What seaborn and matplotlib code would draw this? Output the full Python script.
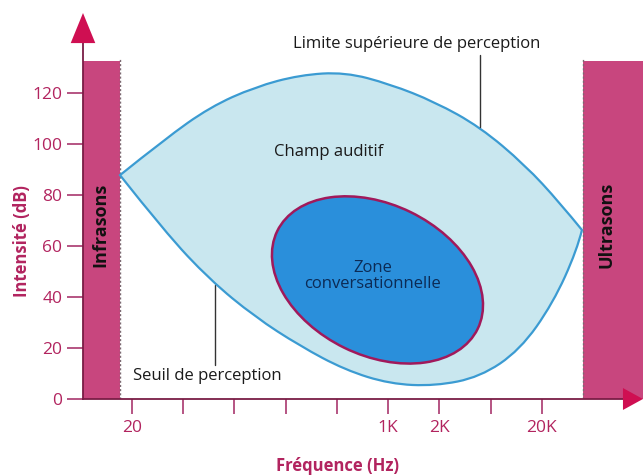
import numpy as np
import matplotlib.pyplot as plt
import seaborn as sns
from matplotlib.path import Path
from matplotlib.patches import PathPatch, Ellipse
from matplotlib.transforms import ScaledTranslation

# x axis is drawn as tick index: 0 = 20 Hz, 5 = 1K, 6 = 2K, 8 = 20K
freq_ticks = [0, 1, 2, 3, 4, 5, 6, 7, 8]
freq_labels = ["20", "", "", "", "", "1K", "2K", "", "20K"]
db_ticks = [0, 20, 40, 60, 80, 100, 120]

# limite superieure de perception (tick index, dB)
upper_x = [-0.234, 0.644, 1.522, 2.400, 3.278, 4.156, 5.034, 5.912, 6.790, 7.668, 8.351, 8.780]
upper_y = [87.8, 102.0, 114.5, 122.4, 127.1, 128.2, 123.5, 116.5, 106.7, 91.8, 76.9, 66.3]

# seuil de perception
lower_x = [-0.234, 0.644, 1.522, 2.400, 3.278, 4.156, 5.034, 5.912, 6.790, 7.571, 8.215, 8.683, 8.780]
lower_y = [87.8, 65.5, 46.7, 32.2, 20.8, 11.4, 5.9, 5.1, 8.6, 19.2, 37.6, 58.4, 66.3]

# zone conversationnelle: centre (tick index, dB), size in pixels, tilt
zone_center = (4.79, 46.7)
zone_size = (223, 151)
zone_angle = -26

# infrasons / ultrasons bands (tick index) and their height (dB)
infra_band = (-0.956, -0.234)
ultra_band = (8.80, 9.97)
band_top = 132.5

PINK = "#c8467e"
CRIMSON = "#b2245f"
ARROW = "#cf0f52"
AXIS = "#7a1d45"
BLUE_LINE = "#3b9bd2"
LIGHT_BLUE = "#c9e7ef"
ZONE_BLUE = "#2a8fdb"
ZONE_EDGE = "#a1195b"


def smooth_codes(xs, ys):
    # quadratic b-spline through the read points, drawn by matplotlib
    pts = np.column_stack([xs, ys])
    verts = [pts[0]]
    codes = [Path.MOVETO]
    for i in range(1, len(pts) - 2):
        verts += [pts[i], (pts[i] + pts[i + 1]) / 2]
        codes += [Path.CURVE3, Path.CURVE3]
    verts += [pts[-2], pts[-1]]
    codes += [Path.CURVE3, Path.CURVE3]
    return verts, codes


sns.set_style("white")
plt.rcParams['font.family'] = ['Open Sans', 'DejaVu Sans']

fig = plt.figure(figsize=(6.43, 4.76), dpi=100)
ax = fig.add_axes([83 / 643, 77 / 476, 560 / 643, 399 / 476])
ax.set_xlim(-0.956, 9.971)
ax.set_ylim(0, 156.5)
ax.patch.set_alpha(0)

# side bands
for (x0, x1) in [infra_band, ultra_band]:
    ax.bar(x0, band_top, width=x1 - x0, align='edge', color=PINK, linewidth=0, zorder=1)
ax.plot([infra_band[1]] * 2, [0, band_top + 1], ls=(0, (1.5, 1.5)), color="#7d6a72", lw=1, zorder=2)
ax.plot([ultra_band[0]] * 2, [0, band_top + 1], ls=(0, (1.5, 1.5)), color="#7d6a72", lw=1, zorder=2)

# champ auditif
uv, uc = smooth_codes(upper_x, upper_y)
lv, lc = smooth_codes(lower_x[::-1], lower_y[::-1])
verts = uv + lv[1:] + [uv[0]]
codes = uc + lc[1:] + [Path.CLOSEPOLY]
ax.add_patch(PathPatch(Path(verts, codes), facecolor=LIGHT_BLUE, edgecolor=BLUE_LINE,
                       lw=1.6, zorder=3))

# zone conversationnelle
ax.add_patch(Ellipse((0, 0), zone_size[0], zone_size[1], angle=zone_angle,
                     transform=ScaledTranslation(zone_center[0], zone_center[1], ax.transData),
                     facecolor=ZONE_BLUE, edgecolor=ZONE_EDGE, lw=1.8, zorder=4))

# axes
sns.despine(ax=ax)
ax.spines['left'].set_bounds(0, 139.6)
ax.spines['bottom'].set_bounds(-0.956, 9.62)
for s in ['left', 'bottom']:
    ax.spines[s].set_color(AXIS)
    ax.spines[s].set_linewidth(1.3)
    ax.spines[s].set_zorder(5)
ax.fill([-0.956 - 0.24, -0.956 + 0.24, -0.956], [139.6, 139.6, 151.4], color=ARROW,
        lw=0, clip_on=False, zorder=6)
ax.fill([9.58, 9.58, 9.97], [-4.3, 4.3, 0], color=ARROW, lw=0, clip_on=False, zorder=6)

ax.set_xticks(freq_ticks, freq_labels)
ax.set_yticks(db_ticks)
ax.tick_params(axis='x', direction='out', length=10.8, width=1.3, color="#b0477a",
               pad=4, labelsize=12.5, labelcolor=CRIMSON)
ax.tick_params(axis='y', direction='out', length=11.5, width=1.3, color="#b0477a",
               pad=3.5, labelsize=12.5, labelcolor=CRIMSON)
ax.yaxis.get_major_ticks()[0].tick1line.set_visible(False)
ax.tick_params(left=True, bottom=True)

# texts
ax.text(5.56, 139.2, "Limite supérieure de perception", ha='center', va='center',
        fontsize=12, color="#1a1a1a")
ax.plot([6.79, 6.79], [134.9, 106.7], color="#333333", lw=1, zorder=3)
ax.text(3.84, 96.9, "Champ auditif", ha='center', va='center', fontsize=12,
        color="#1a1a1a", zorder=6)
ax.text(4.70, 48.2, "Zone\nconversationnelle", ha='center', va='center', fontsize=12,
        color="#0c2b55", linespacing=0.95, zorder=6)
ax.text(0.02, 9.0, "Seuil de perception", ha='left', va='center', fontsize=12,
        color="#1a1a1a", zorder=6)
ax.plot([1.62, 1.62], [13.3, 44.7], color="#333333", lw=1, zorder=2)
ax.text(-0.62, 68.2, "Infrasons", rotation=90, ha='center', va='center', fontsize=13,
        fontweight='bold', color="#111111", zorder=6)
ax.text(9.25, 68.2, "Ultrasons", rotation=90, ha='center', va='center', fontsize=13,
        fontweight='bold', color="#111111", zorder=6)

fig.text(338 / 643, 1 - 466 / 476, "Fréquence (Hz)", ha='center', va='center',
         fontsize=12, fontweight='bold', color=CRIMSON)
fig.text(22 / 643, 1 - 241 / 476, "Intensité (dB)", ha='center', va='center',
         rotation=90, fontsize=12, fontweight='bold', color=CRIMSON)

fig.savefig("out.png", dpi=100)
